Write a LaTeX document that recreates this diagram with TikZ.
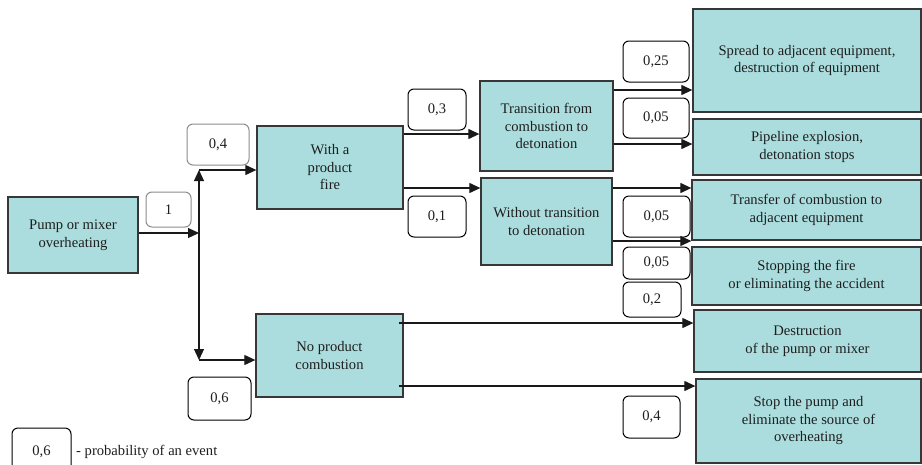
\documentclass[tikz,border=0pt]{standalone}
\usepackage{fontspec}
\setmainfont{Liberation Serif}
\usetikzlibrary{arrows.meta}
\definecolor{boxfill}{RGB}{172,221,222}
\definecolor{boxline}{RGB}{55,55,55}
\definecolor{txt}{RGB}{30,30,30}
\begin{document}
\begin{tikzpicture}[x=1pt,y=-1pt,
  every node/.style={font=\fontsize{14.6}{17.5}\selectfont, text=txt},
  evt/.style={draw=boxline, fill=boxfill, line width=1.3pt, align=center, inner sep=0pt},
  prob/.style={draw=black, fill=white, line width=1pt, rounded corners=6pt, align=center, inner sep=0pt},
  probg/.style={prob, draw=black!45},
  arr/.style={draw=black!90, line width=1.2pt, -{Triangle[length=11pt,width=10pt]}}]
\useasboundingbox (0,0) rectangle (922,464);

% event boxes
\node[evt, minimum width=130pt, minimum height=76pt] (pump) at (73,235) {Pump or mixer\\overheating};
\node[evt, minimum width=146pt, minimum height=83pt] (fire) at (330,167.5) {With a\\product\\fire};
\node[evt, minimum width=147pt, minimum height=83pt] (noprod) at (329.5,355.5) {No product\\combustion};
\node[evt, minimum width=133pt, minimum height=90pt] (trans) at (546.5,126) {Transition from\\combustion to\\detonation};
\node[evt, minimum width=131pt, minimum height=87pt] (without) at (546.5,221.5) {Without transition\\to detonation};
\node[evt, minimum width=228pt, minimum height=103pt] (spread) at (807,60.5) {Spread to adjacent equipment,\\destruction of equipment};
\node[evt, minimum width=228pt, minimum height=56pt] (pipe) at (807,147) {Pipeline explosion,\\detonation stops};
\node[evt, minimum width=229pt, minimum height=60pt] (transfer) at (806.5,210) {Transfer of combustion to\\adjacent equipment};
\node[evt, minimum width=229pt, minimum height=58pt] (stopfire) at (806.5,276) {Stopping the fire\\or eliminating the accident};
\node[evt, minimum width=227pt, minimum height=62pt] (destr) at (807.5,341) {Destruction\\of the pump or mixer};
\node[evt, minimum width=225pt, minimum height=84pt] (stoppump) at (808.5,421) {Stop the pump and\\eliminate the source of\\overheating};

% probability boxes
\node[probg, minimum width=45pt, minimum height=35pt] (p1) at (168.5,209.5) {1};
\node[probg, minimum width=62pt, minimum height=41pt] (p04a) at (218,144.5) {0,4};
\node[prob, minimum width=58pt, minimum height=41pt] (p03) at (437,109.5) {0,3};
\node[prob, minimum width=58pt, minimum height=41pt] (p01) at (437,216.5) {0,1};
\node[prob, minimum width=66pt, minimum height=41pt] (p025) at (656,61.5) {0,25};
\node[prob, minimum width=66pt, minimum height=40pt] (p005a) at (656,118) {0,05};
\node[prob, minimum width=67pt, minimum height=41pt] (p005b) at (656.5,216.5) {0,05};
\node[prob, minimum width=67pt, minimum height=32pt] (p005c) at (656.5,263) {0,05};
\node[prob, minimum width=58pt, minimum height=35pt] (p02) at (652,299.5) {0,2};
\node[prob, minimum width=63pt, minimum height=43pt] (p06) at (219.5,398.5) {0,6};
\node[prob, minimum width=57pt, minimum height=42pt] (p04b) at (651.5,417) {0,4};

% legend
\node[prob, minimum width=59pt, minimum height=48pt] (leg) at (41.5,452) {0,6};
\node[anchor=west, inner sep=0pt] (legtxt) at (76,452) {- probability of an event};

% junction coordinates
\coordinate (j) at (199,233);
\coordinate (jt) at (199,170);
\coordinate (jb) at (199,360);

% connectors
\draw[arr] (pump.east |- j) -- (j);
\draw[arr] (j) -- (jt);
\draw[arr] (j) -- (jb);
\draw[arr] (jt) -- (fire.west |- jt);
\draw[arr] (jb) -- (noprod.west |- jb);

\draw[arr] (fire.east |- 0,134) -- (trans.west |- 0,134);
\draw[arr] (fire.east |- 0,188) -- (without.west |- 0,188);

\draw[arr] (trans.east |- 0,90) -- (spread.west |- 0,90);
\draw[arr] (trans.east |- 0,144) -- (pipe.west |- 0,144);

\draw[arr] (without.east |- 0,188) -- (transfer.west |- 0,188);
\draw[arr] (without.east |- 0,241) -- (stopfire.west |- 0,241);

\draw[arr] ([xshift=-5pt]noprod.east |- 0,323) -- (destr.west |- 0,323);
\draw[arr] ([xshift=-5pt]noprod.east |- 0,386) -- (stoppump.west |- 0,386);
\end{tikzpicture}
\end{document}
